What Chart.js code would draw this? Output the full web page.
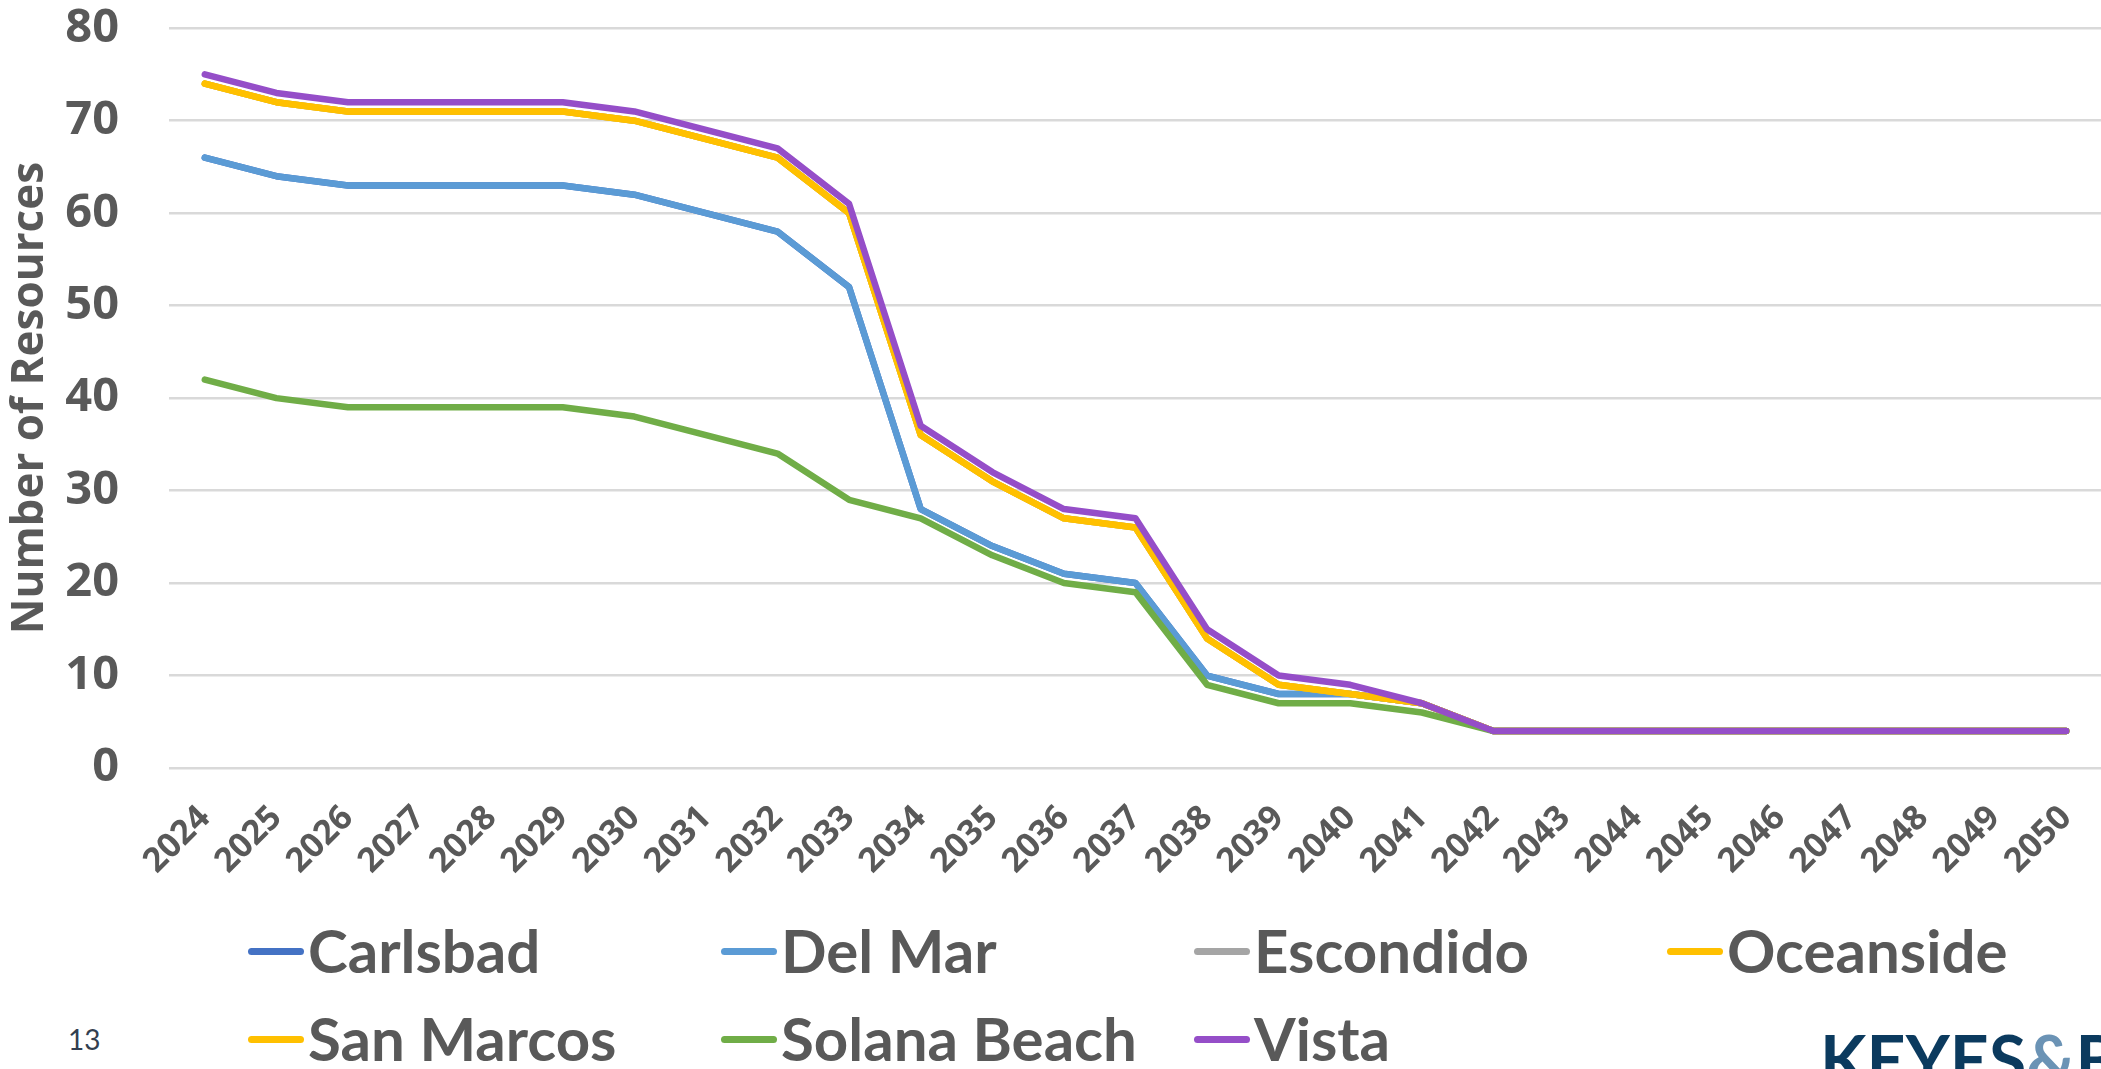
<!DOCTYPE html>
<html>
<head>
<meta charset="utf-8">
<title>Number of Resources by City</title>
<script src="https://cdn.jsdelivr.net/npm/chart.js@4.4.1/dist/chart.umd.min.js"></script>
<style>
  html, body { margin: 0; padding: 0; background: #fff; overflow: hidden; }
  body { width: 2101px; height: 1069px; position: relative; }
  #chartWrap { position: absolute; left: 0; top: -50px; width: 2117px; height: 950px; }
  #legend {
    position: absolute; left: 248px; top: 906px;
    display: grid; grid-template-columns: repeat(4, 473px); grid-auto-rows: 88px;
    font-family: 'Lato', sans-serif; font-weight: 700; font-size: 60px; color: #595959;
  }
  .leg-item { display: flex; align-items: center; line-height: 88px; white-space: nowrap; }
  .leg-mark { width: 56px; height: 7px; border-radius: 4px; margin-right: 4px; margin-top: 2px; }
  #pageNo {
    position: absolute; left: 68px; top: 1025px;
    font-family: 'Lato', sans-serif; font-size: 28px; line-height: 28px; color: #333f50;
  }
  #logo {
    position: absolute; left: 1820px; top: 1025px; white-space: nowrap;
    font-family: 'Lato', sans-serif; font-weight: 700; font-size: 68px; line-height: 68px;
    color: #0b3a5e;
  }
  #logo .amp { color: #6b93b5; }
</style>
</head>
<body>
<div id="chartWrap"><canvas id="resChart"></canvas></div>
<div id="legend"></div>
<div id="pageNo">13</div>
<div id="logo">KEYES<span class="amp">&amp;</span>B</div>

<script>
/* ---------- data ---------- */
const years = ['2024', '2025', '2026', '2027', '2028', '2029', '2030', '2031', '2032',
               '2033', '2034', '2035', '2036', '2037', '2038', '2039', '2040', '2041',
               '2042', '2043', '2044', '2045', '2046', '2047', '2048', '2049', '2050'];

const carlsbad    = [66, 64, 63, 63, 63, 63, 62, 60, 58, 52, 28, 24, 21, 20, 10, 8, 8, 7, 4, 4, 4, 4, 4, 4, 4, 4, 4];
const delMar      = [66, 64, 63, 63, 63, 63, 62, 60, 58, 52, 28, 24, 21, 20, 10, 8, 8, 7, 4, 4, 4, 4, 4, 4, 4, 4, 4];
const escondido   = [74, 72, 71, 71, 71, 71, 70, 68, 66, 60, 36, 31, 27, 26, 14, 9, 8, 7, 4, 4, 4, 4, 4, 4, 4, 4, 4];
const oceanside   = [74, 72, 71, 71, 71, 71, 70, 68, 66, 60, 36, 31, 27, 26, 14, 9, 8, 7, 4, 4, 4, 4, 4, 4, 4, 4, 4];
const sanMarcos   = [74, 72, 71, 71, 71, 71, 70, 68, 66, 60, 36, 31, 27, 26, 14, 9, 8, 7, 4, 4, 4, 4, 4, 4, 4, 4, 4];
const solanaBeach = [42, 40, 39, 39, 39, 39, 38, 36, 34, 29, 27, 23, 20, 19, 9, 7, 7, 6, 4, 4, 4, 4, 4, 4, 4, 4, 4];
const vista       = [75, 73, 72, 72, 72, 72, 71, 69, 67, 61, 37, 32, 28, 27, 15, 10, 9, 7, 4, 4, 4, 4, 4, 4, 4, 4, 4];

const seriesNames  = ['Carlsbad', 'Del Mar', 'Escondido', 'Oceanside', 'San Marcos', 'Solana Beach', 'Vista'];
const seriesValues = [carlsbad, delMar, escondido, oceanside, sanMarcos, solanaBeach, vista];
const seriesColors = ['#4472c4', '#5b9bd5', '#a5a5a5', '#ffc000', '#ffc000', '#70ad47', '#954ec8'];

const yMin = 0, yMax = 80, yStep = 10;

/* ---------- chart ---------- */
const TEXT = '#595959';

function buildChart() {
  const ctx = document.getElementById('resChart').getContext('2d');

  // later series are painted on top (as in the slide), so reverse the draw order
  const datasets = seriesNames.map((name, i) => ({
    label: name,
    data: seriesValues[i],
    order: seriesNames.length - i,
    borderColor: seriesColors[i],
    backgroundColor: seriesColors[i],
    borderWidth: 6.5,
    borderCapStyle: 'round',
    borderJoinStyle: 'round',
    pointRadius: 0,
    tension: 0,
    fill: false
  }));

  return new Chart(ctx, {
    type: 'line',
    data: { labels: years, datasets: datasets },
    options: {
      responsive: true,
      maintainAspectRatio: false,
      animation: false,
      layout: { padding: 0 },
      plugins: { legend: { display: false }, tooltip: { enabled: false } },
      scales: {
        x: {
          offset: true,
          grid: { display: false },
          border: { display: false },
          afterFit: s => { s.height = 132; },
          ticks: {
            autoSkip: false, minRotation: 45, maxRotation: 45, padding: 22,
            color: TEXT, font: { family: "'Open Sans', sans-serif", size: 34, weight: 'bold' }
          }
        },
        y: {
          min: yMin, max: yMax,
          border: { display: false },
          grid: { color: '#d9d9d9', lineWidth: 2.5, drawTicks: false },
          afterFit: s => { s.width = 169; },
          ticks: {
            stepSize: yStep, padding: 50,
            color: TEXT, font: { family: "'Open Sans', sans-serif", size: 47, weight: 'bold' }
          },
          title: {
            display: true, text: 'Number of Resources', padding: { top: 4, bottom: 0 },
            color: TEXT, font: { family: "'Open Sans', sans-serif", size: 44, weight: 'bold' }
          }
        }
      }
    }
  });
}

/* ---------- legend (4 columns like the slide) ---------- */
function buildLegend(chart) {
  const box = document.getElementById('legend');
  seriesNames.forEach((name, i) => {
    const item = document.createElement('div');
    item.className = 'leg-item';
    const mark = document.createElement('span');
    mark.className = 'leg-mark';
    mark.style.background = chart.data.datasets[i].borderColor;
    item.appendChild(mark);
    item.appendChild(document.createTextNode(name));
    box.appendChild(item);
  });
}

const chart = buildChart();
buildLegend(chart);
</script>
</body>
</html>
